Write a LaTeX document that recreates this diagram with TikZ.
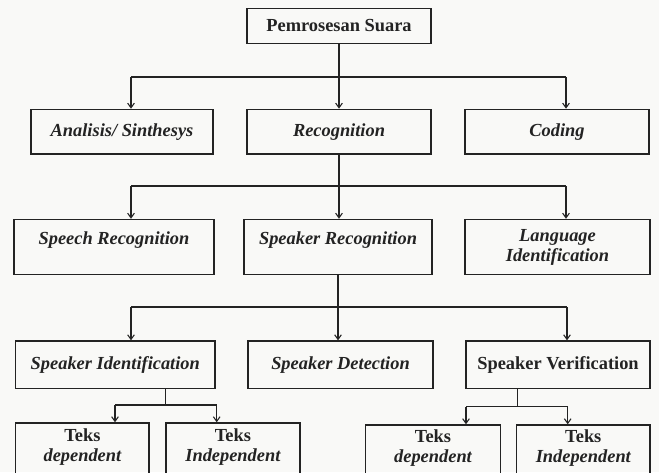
\documentclass[tikz,border=0pt]{standalone}
\usepackage{fontspec}
\setmainfont{Liberation Serif}
\usetikzlibrary{arrows.meta}

\definecolor{ink}{RGB}{35,35,35}
\definecolor{paper}{RGB}{249,249,247}

\tikzset{
  box/.style={draw=ink, line width=1.1pt, inner sep=0pt, align=center, text=ink,
    font=\fontsize{13.8}{15}\selectfont\bfseries},
  conn/.style={draw=ink, line width=0.8pt},
  arr/.style={conn, -{Straight Barb[length=3.5pt,width=5pt]}},
  raised/.style={text depth=13.5pt},
  cutoff/.style={text depth=7.5pt}
}

\begin{document}
\begin{tikzpicture}[x=0.75pt,y=0.75pt,yscale=-1,xscale=1]
\fill[paper] (0,0) rectangle (659,472);
\useasboundingbox (0,0) rectangle (659,472);

% Text Node
\node[box, minimum width=138pt, minimum height=25.9pt] (top) at (339,26) {Pemrosesan Suara};

% Text Node
\node[box, minimum width=136.5pt, minimum height=33.4pt] (ana) at (122,131.7) {\itshape Analisis/ Sinthesys};
% Text Node
\node[box, minimum width=138pt, minimum height=33.4pt] (rec) at (339,131.7) {\itshape Recognition};
% Text Node
\node[box, minimum width=138pt, minimum height=33.4pt] (cod) at (557,131.7) {\itshape Coding};

% Text Node
\node[box, raised, minimum width=150pt, minimum height=41.25pt] (speech) at (114,247) {\itshape Speech Recognition};
% Text Node
\node[box, raised, minimum width=141pt, minimum height=41.25pt] (spkrec) at (338,247) {\itshape Speaker Recognition};
% Text Node
\node[box, minimum width=138.75pt, minimum height=41.25pt] (lang) at (557.5,247) {\itshape Language\\\itshape Identification};

% Text Node
\node[box, minimum width=149.6pt, minimum height=35.6pt] (spkid) at (115.3,364.8) {\itshape Speaker Identification};
% Text Node
\node[box, minimum width=138.75pt, minimum height=35.6pt] (spkdet) at (340.5,364.8) {\itshape Speaker Detection};
% Text Node
\node[box, minimum width=138pt, minimum height=35.6pt] (spkver) at (558,364.8) {Speaker Verification};

% Text Node (bottom edge runs past the page)
\node[box, cutoff, minimum width=100pt, minimum height=40.5pt] (tdl) at (82.4,450) {Teks\\\itshape dependent};
% Text Node
\node[box, cutoff, minimum width=100.7pt, minimum height=40.5pt] (til) at (232.9,450) {Teks\\\itshape Independent};
% Text Node
\node[box, cutoff, minimum width=101.25pt, minimum height=39pt] (tdr) at (433,451) {Teks\\\itshape dependent};
% Text Node
\node[box, cutoff, minimum width=100pt, minimum height=39pt] (tir) at (583.3,451) {Teks\\\itshape Independent};

%Straight Lines
\coordinate (b1l) at (131,77);
\coordinate (b1r) at (566,77);
\draw[conn] (top.south) -- (top.south |- b1l);
\draw[conn] (b1l) -- (b1r);
\draw[arr] (b1l) -- (b1l |- ana.north);
\draw[arr] (top.south |- b1l) -- (top.south |- rec.north);
\draw[arr] (b1r) -- (b1r |- cod.north);

%Straight Lines
\coordinate (b2l) at (131,186);
\coordinate (b2r) at (566,186);
\draw[conn] (rec.south) -- (rec.south |- b2l);
\draw[conn] (b2l) -- (b2r);
\draw[arr] (b2l) -- (b2l |- speech.north);
\draw[arr] (rec.south |- b2l) -- (rec.south |- spkrec.north);
\draw[arr] (b2r) -- (b2r |- lang.north);

%Straight Lines
\coordinate (b3l) at (131,307);
\coordinate (b3r) at (567,307);
\draw[conn] (spkrec.south) -- (spkrec.south |- b3l);
\draw[conn] (b3l) -- (b3r);
\draw[arr] (b3l) -- (b3l |- spkid.north);
\draw[arr] (spkrec.south |- b3l) -- (spkrec.south |- spkdet.north);
\draw[arr] (b3r) -- (b3r |- spkver.north);

%Straight Lines
\coordinate (s4) at (165.7,405);
\coordinate (b4l) at (115,405);
\coordinate (b4r) at (216.7,405);
\draw[conn] (s4 |- spkid.south) -- (s4);
\draw[conn] (b4l) -- (b4r);
\draw[arr] (b4l) -- (b4l |- tdl.north);
\draw[arr] (b4r) -- (b4r |- til.north);

%Straight Lines
\coordinate (s5) at (517.3,406.7);
\coordinate (b5l) at (466,406.7);
\coordinate (b5r) at (567.7,406.7);
\draw[conn] (s5 |- spkver.south) -- (s5);
\draw[conn] (b5l) -- (b5r);
\draw[arr] (b5l) -- (b5l |- tdr.north);
\draw[arr] (b5r) -- (b5r |- tir.north);

\end{tikzpicture}
\end{document}
